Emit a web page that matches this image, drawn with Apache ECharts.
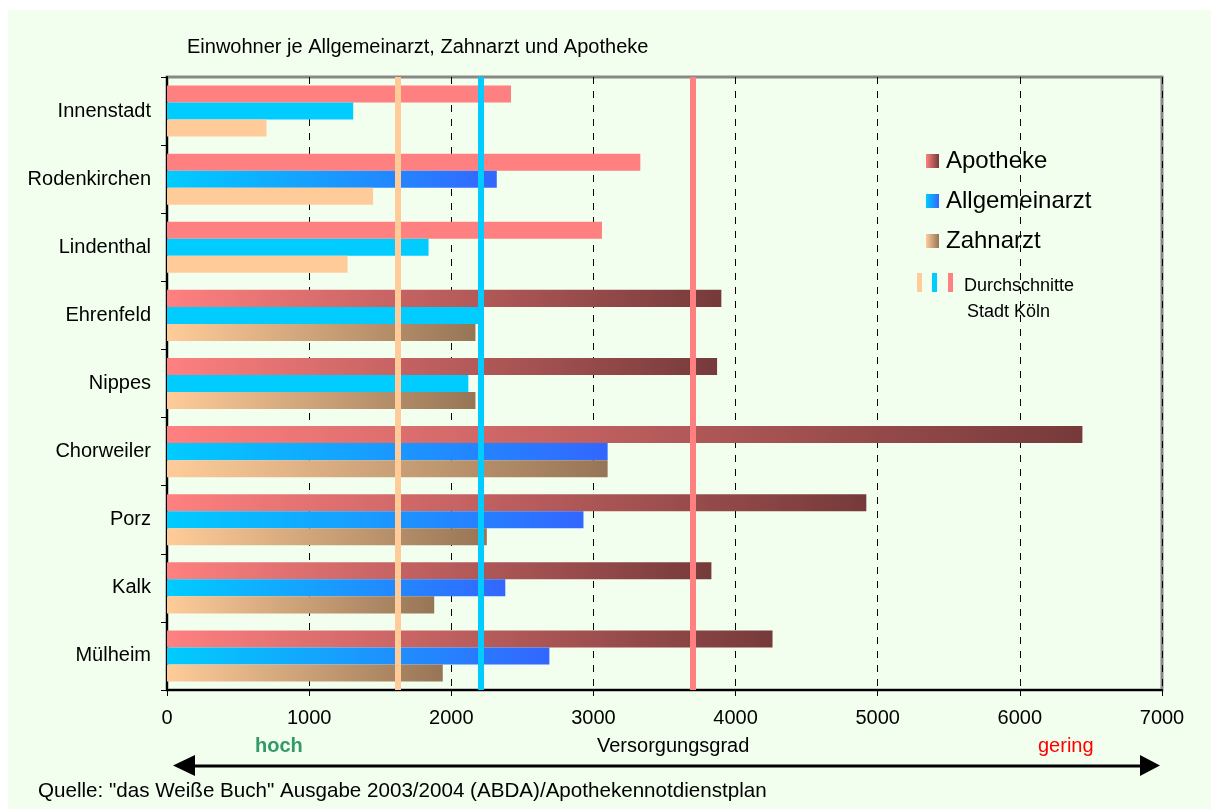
<!DOCTYPE html>
<html>
<head>
    <meta charset="utf-8">
    <script src="https://cdn.jsdelivr.net/npm/echarts@6/dist/echarts.min.js"></script>
    <style>
        html, body { margin: 0; padding: 0; background: #fff; }
        #chart { width: 1211px; height: 809px; }
    </style>
</head>
<body>
<div id="chart"></div>
<script>
    // Stadtbezirke Köln
    var bezirke = ['Innenstadt', 'Rodenkirchen', 'Lindenthal', 'Ehrenfeld', 'Nippes', 'Chorweiler', 'Porz', 'Kalk', 'Mülheim'];

    // Einwohner je ...
    var apotheke      = [2420, 3330, 3060, 3900, 3870, 6440, 4920, 3830, 4260];
    var allgemeinarzt = [1310, 2320, 1840, 2210, 2120, 3100, 2930, 2380, 2690];
    var zahnarzt      = [700, 1450, 1270, 2170, 2170, 3100, 2250, 1880, 1940];

    // Durchschnitte Stadt Köln
    var avgApotheke = 3700;
    var avgAllgemeinarzt = 2210;
    var avgZahnarzt = 1620;

    var xTicks = [0, 1000, 2000, 3000, 4000, 5000, 6000, 7000];

    var font = 'Liberation Sans, Arial, sans-serif';

    function grad(c1, c2) {
        return new echarts.graphic.LinearGradient(0, 0, 1, 0, [
            { offset: 0, color: c1 },
            { offset: 1, color: c2 }
        ]);
    }

    // nur ueber dem Durchschnitt mit Verlauf
    function items(values, avg, flat) {
        return values.map(function (v) {
            if (v > avg) return v;
            return { value: v, itemStyle: { color: flat } };
        });
    }

    var chart = echarts.init(document.getElementById('chart'));

    var option = {
        animation: false,
        backgroundColor: '#ffffff',
        textStyle: { fontFamily: font },
        grid: {
            left: 167, right: 49, top: 77, bottom: 119,
            show: true, borderColor: '#888888', borderWidth: 3,
            backgroundColor: 'transparent'
        },
        legend: {
            data: ['Apotheke', 'Allgemeinarzt', 'Zahnarzt'],
            orient: 'vertical',
            left: 926, top: 149,
            itemWidth: 13, itemHeight: 14,
            itemGap: 16,
            padding: 0,
            icon: 'rect',
            textStyle: { fontSize: 24, color: '#000', fontFamily: font, padding: [0, 0, 0, 2] }
        },
        xAxis: {
            type: 'value',
            min: 0, max: 7000, interval: 1000,
            axisLine: { show: true, lineStyle: { color: '#000', width: 2 } },
            axisTick: { show: true, length: 6, lineStyle: { color: '#000' } },
            axisLabel: {
                fontSize: 20, color: '#000', margin: 18,
                formatter: function (v) { return xTicks.indexOf(v) >= 0 ? String(v) : ''; }
            },
            splitLine: { show: true, lineStyle: { color: '#000', type: [7, 7], width: 1 } }
        },
        yAxis: {
            type: 'category',
            inverse: true,
            data: bezirke,
            axisLine: { show: true, lineStyle: { color: '#000', width: 2 } },
            axisTick: { show: true, length: 6, lineStyle: { color: '#000' } },
            axisLabel: { fontSize: 20, color: '#000', margin: 16 }
        },
        series: [
            {
                name: 'Apotheke', type: 'bar',
                barGap: '0%', barCategoryGap: '25%',
                itemStyle: { color: grad('#FF8080', '#763A3A') },
                data: items(apotheke, avgApotheke, '#FF8080')
            },
            {
                name: 'Allgemeinarzt', type: 'bar',
                barGap: '0%', barCategoryGap: '25%',
                itemStyle: { color: grad('#00CCFF', '#3366FF') },
                data: items(allgemeinarzt, avgAllgemeinarzt, '#00CCFF')
            },
            {
                name: 'Zahnarzt', type: 'bar',
                barGap: '0%', barCategoryGap: '25%',
                itemStyle: { color: grad('#FFCC99', '#967556') },
                data: items(zahnarzt, avgZahnarzt, '#FFCC99')
            },
            {
                name: 'Durchschnitt', type: 'line', data: [], z: 10,
                markLine: {
                    silent: true,
                    symbol: 'none',
                    label: { show: false },
                    lineStyle: { width: 6, type: 'solid' },
                    data: [
                        { xAxis: avgZahnarzt, lineStyle: { color: '#FFCC99', width: 6, type: 'solid' } },
                        { xAxis: avgAllgemeinarzt, lineStyle: { color: '#00CCFF', width: 6, type: 'solid' } },
                        { xAxis: avgApotheke, lineStyle: { color: '#FF8080', width: 6, type: 'solid' } }
                    ]
                }
            }
        ],
        graphic: [
            // hellgruener Hintergrund
            { type: 'rect', left: 8, top: 10, z: -100, silent: true,
              shape: { width: 1203, height: 799 }, style: { fill: '#F3FFEE' } },
            { type: 'text', left: 187, top: 37, silent: true,
              style: { text: 'Einwohner je Allgemeinarzt, Zahnarzt und Apotheke', fill: '#000', font: '20px ' + font } },
            // Legende Durchschnitte
            { type: 'rect', left: 917, top: 273, silent: true, shape: { width: 5, height: 19 }, style: { fill: '#FFCC99' } },
            { type: 'rect', left: 932, top: 273, silent: true, shape: { width: 5, height: 19 }, style: { fill: '#00CCFF' } },
            { type: 'rect', left: 948, top: 273, silent: true, shape: { width: 5, height: 19 }, style: { fill: '#FF8080' } },
            { type: 'text', left: 964, top: 277, silent: true, style: { text: 'Durchschnitte', font: '18px ' + font, fill: '#000' } },
            { type: 'text', left: 967, top: 303, silent: true, style: { text: 'Stadt Köln', font: '18px ' + font, fill: '#000' } },
            // Versorgungsgrad
            { type: 'text', left: 255, top: 736, silent: true, style: { text: 'hoch', font: 'bold 20px ' + font, fill: '#339966' } },
            { type: 'text', left: 597, top: 736, silent: true, style: { text: 'Versorgungsgrad', font: '20px ' + font, fill: '#000' } },
            { type: 'text', left: 1038, top: 736, silent: true, style: { text: 'gering', font: '20px ' + font, fill: '#FF0000' } },
            { type: 'line', silent: true, shape: { x1: 190, y1: 766, x2: 1144, y2: 766 }, style: { stroke: '#000', lineWidth: 3 } },
            { type: 'polygon', silent: true, shape: { points: [[173, 765.5], [195, 755], [195, 776]] }, style: { fill: '#000' } },
            { type: 'polygon', silent: true, shape: { points: [[1160, 765.5], [1140, 755], [1140, 776]] }, style: { fill: '#000' } },
            { type: 'text', left: 38, top: 781, silent: true,
              style: { text: 'Quelle: "das Weiße Buch" Ausgabe 2003/2004 (ABDA)/Apothekennotdienstplan', font: '20.6px ' + font, fill: '#000' } }
        ]
    };

    chart.setOption(option);
</script>
</body>
</html>
